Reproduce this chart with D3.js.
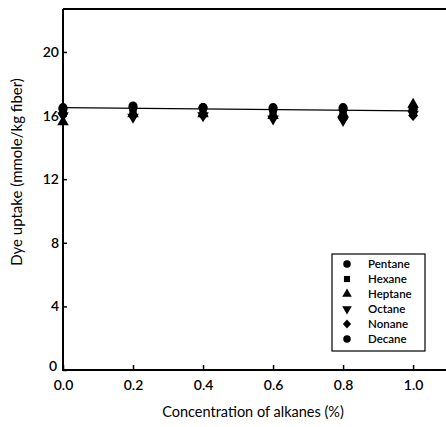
<!DOCTYPE html>
<html><head><meta charset="utf-8">
<script src="https://cdn.jsdelivr.net/npm/d3@7"></script>
<style>body{margin:0;background:#fff}svg{display:block}text{font-family:Lato,"Open Sans",sans-serif;fill:#000}</style>
</head><body><svg id="c" width="446" height="427"></svg>
<script>
const xValues = [0.0, 0.2, 0.4, 0.6, 0.8, 1.0];
const seriesNames = ["Pentane","Hexane","Heptane","Octane","Nonane","Decane"];
const pentane = [16.4, 16.5, 16.5, 16.4, 16.4, 16.4];
const hexane  = [16.3, 16.3, 16.3, 16.2, 16.2, 16.3];
const heptane = [15.6, 16.1, 16.1, 16.0, 16.1, 16.7];
const octane  = [16.0, 15.9, 16.0, 15.8, 15.7, 16.1];
const nonane  = [16.1, 16.0, 16.0, 15.9, 15.8, 16.0];
const decane  = [16.5, 16.6, 16.5, 16.5, 16.5, 16.5];
const fitLine = [16.5, 16.3];
const xTicks = [0.0, 0.2, 0.4, 0.6, 0.8, 1.0];
const yTicks = [0, 4, 8, 12, 16, 20];

const seriesData = [pentane, hexane, heptane, octane, nonane, decane];
const symbols = ["circle", "square", "up", "down", "diamond", "circle"];

const svg = d3.select("#c");
const x = d3.scaleLinear().domain([0, 1.094]).range([63, 446]);
const y = d3.scaleLinear().domain([0, 22.7]).range([370, 9]);

function sym(s, size){
  if (s === "circle") return d3.symbol().type(d3.symbolCircle).size(size)();
  if (s === "square") return d3.symbol().type(d3.symbolSquare).size(size*0.85)();
  if (s === "up" || s === "down") return d3.symbol().type(d3.symbolTriangle).size(size*0.9)();
  const r = Math.sqrt(size)*0.62;
  return `M0,${-r*1.1}L${r},0L0,${r*1.1}L${-r},0Z`;
}
function rot(s){ return s === "down" ? " rotate(180)" : ""; }

svg.append("line").attr("x1",x(0)).attr("x2",446).attr("y1",y(0)).attr("y2",y(0)).attr("stroke","#000").attr("stroke-width",2);
svg.append("line").attr("x1",x(0)).attr("x2",446).attr("y1",9).attr("y2",9).attr("stroke","#000").attr("stroke-width",2);
svg.append("line").attr("x1",x(0)).attr("x2",x(0)).attr("y1",9).attr("y2",y(0)+1).attr("stroke","#000").attr("stroke-width",2);

const xa = svg.append("g").attr("transform",`translate(0,${y(0)})`)
  .call(d3.axisBottom(x).tickValues(xTicks).tickSize(-5).tickPadding(10).tickFormat(d3.format(".1f")));
xa.select(".domain").remove();
xa.selectAll("line").attr("stroke","#000").attr("stroke-width",1.5);
xa.selectAll("text").attr("font-size",14).attr("font-weight",600).attr("font-family","Lato, sans-serif");

const ya = svg.append("g").attr("transform",`translate(${x(0)},0)`)
  .call(d3.axisLeft(y).tickValues(yTicks).tickSize(-4).tickPadding(4).tickFormat(d3.format("d")));
ya.select(".domain").remove();
ya.selectAll("line").attr("stroke","#000").attr("stroke-width",1.5);
ya.selectAll("text").attr("font-size",14).attr("font-weight",600).attr("font-family","Lato, sans-serif");
ya.selectAll(".tick").filter(d => d === 0).select("text").attr("y",-4).attr("x",-6);

svg.append("line").attr("x1",x(0)).attr("x2",x(1)).attr("y1",y(fitLine[0])).attr("y2",y(fitLine[1]))
  .attr("stroke","#000").attr("stroke-width",1.3);

seriesData.forEach((vals,i)=>{
  svg.append("g").selectAll("path").data(vals).join("path")
    .attr("d", sym(symbols[i], 64))
    .attr("transform",(d,j)=>`translate(${x(xValues[j])},${y(d)})${rot(symbols[i])}`)
    .attr("fill","#000");
});

const lg = svg.append("g");
lg.append("rect").attr("x",332).attr("y",254).attr("width",93).attr("height",97)
  .attr("fill","#fff").attr("stroke","#000").attr("stroke-width",1.2);
seriesNames.forEach((n,i)=>{
  const yy = 264 + i*15;
  lg.append("path").attr("d", sym(symbols[i], 44))
    .attr("transform",`translate(347,${yy})${rot(symbols[i])}`).attr("fill","#000");
  lg.append("text").attr("x",368).attr("y",yy+4).attr("font-size",11.5).attr("font-weight",600).text(n);
});

svg.append("text").attr("x",253).attr("y",417).attr("text-anchor","middle").attr("font-size",14.5)
  .text("Concentration of alkanes (%)");
svg.append("text").attr("transform","translate(22,172) rotate(-90)").attr("text-anchor","middle").attr("font-size",15)
  .text("Dye uptake (mmole/kg fiber)");
</script></body></html>
